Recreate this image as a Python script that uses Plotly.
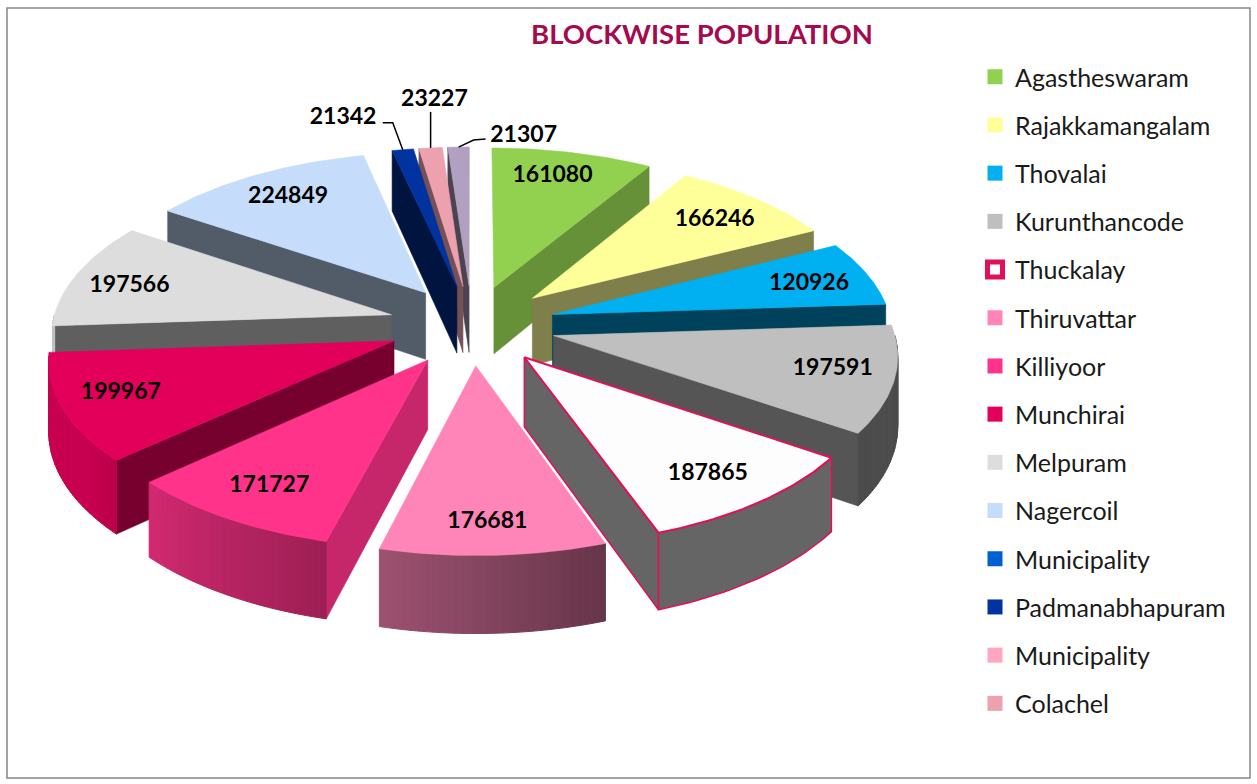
import numpy as np
import plotly.graph_objects as go

# ---------- data ----------
categories = ["Agastheswaram", "Rajakkamangalam", "Thovalai", "Kurunthancode", "Thuckalay",
              "Thiruvattar", "Killiyoor", "Munchirai", "Melpuram", "Nagercoil", "Municipality",
              "Padmanabhapuram", "Municipality", "Colachel", "Municipality"]
values = [161080, 166246, 120926, 197591, 187865, 176681, 171727, 199967, 197566, 224849,
          None, 21342, None, 23227, 21307]
colors = ["#92D050", "#FFFF99", "#00B0F0", "#BFBFBF", "#FDFDFD", "#FF85B8", "#FF3389", "#E3005A",
          "#DDDDDD", "#C5DCFA", "#0060D0", "#0033A0", "#FFA6C0", "#EDA1AE", "#B1A0C0"]
wall_shade = [0.70, 0.50, 0.38, 0.45, 0.40, 0.55, 0.78, 0.52, 0.43, 0.42, 0.45, 0.40, 0.45, 0.50, 0.42]
in_legend = [True] * 14 + [False]
label_frac = [0.78, 0.78, 0.80, 0.78, 0.66, 0.68, 0.72, 0.78, 0.78, 0.72, 0, 1.2, 0, 1.25, 1.1]
label_shift = [(-4, -4), (5, 1), (4, 3), (15, -1), (33, 24), (0, 32), (-18, 15), (-17, 0), (-15, 3), (-13, -9),
               (0, 0), (-50, -7), (0, 0), (11, -17), (66, 2)]
leader_shift = {11: [(-20, -27), (-10, -27), (0, 0)], 13: [(0, -36), (0, 0)], 14: [(27, -8), (15, -7), (0, 0)]}

# ---------- camera ----------
CX, CY, R, EXPLODE, TILT, PERSP, DEPTH = 472, 325, 339, 84, 0.475, 0.103, 68
INK = "#E0105A"
FONT = "Lato, Carlito, sans-serif"


def project(theta, r, mid, z=0.0):
    t, m = np.radians(theta), np.radians(mid)
    x = r * np.sin(t) + EXPLODE * np.sin(m)
    y = -r * np.cos(t) - EXPLODE * np.cos(m)
    w = 1 / (1 - PERSP * y / R)
    return CX + x * w, CY + y * TILT * w + z * w


def shade(hex_color, f):
    rgb = [int(hex_color[i:i + 2], 16) for i in (1, 3, 5)]
    return "rgb(%d,%d,%d)" % tuple(int(c * f) for c in rgb)


def poly(xs, ys, color, line=None, lw=1.0):
    fig.add_trace(go.Scatter(x=list(xs), y=list(ys), mode="lines", fill="toself", fillcolor=color,
                             line=dict(color=line or color, width=lw), hoverinfo="skip",
                             showlegend=False))


total = sum(v for v in values if v)
fig = go.Figure()

slices = []
cum = 0
for i, v in enumerate(values):
    if v:
        a0, a1 = cum / total * 360, (cum + v) / total * 360
        slices.append((i, a0, a1, (a0 + a1) / 2))
        cum += v
slices.sort(key=lambda s: -np.cos(np.radians(s[3])))

for i, a0, a1, mid in slices:
    col = colors[i]
    flat = i == 4
    edge = INK if flat else None
    # radial walls that face the viewer
    for ang, visible in ((a0, np.sin(np.radians(a0)) < 0), (a1, np.sin(np.radians(a1)) > 0)):
        if visible:
            x0, y0 = project(0, 0, mid)
            x1, y1 = project(ang, R, mid)
            x2, y2 = project(ang, R, mid, DEPTH)
            x3, y3 = project(0, 0, mid, DEPTH)
            poly([x0, x1, x2, x3, x0], [y0, y1, y2, y3, y0], shade(col, wall_shade[i]), edge, 1.5 if flat else 0.6)
    # outer wall, split into strips for the shading
    lo, hi = max(a0, 90), min(a1, 270)
    if hi > lo:
        if flat:
            ts = np.linspace(lo, hi, 30)
            top = [project(t, R, mid) for t in ts]
            bot = [project(t, R, mid, DEPTH) for t in ts[::-1]]
            pts = top + bot + [top[0]]
            poly([a for a, _ in pts], [b for _, b in pts], shade(col, wall_shade[i]), INK, 1.5)
        else:
            edges = np.linspace(lo, hi, 31)
            for p, q in zip(edges[:-1], edges[1:]):
                f = float(np.clip(0.40 + ((p + q) / 2 - 160) * 0.0063, 0.40, 0.88))
                ts = np.linspace(p, q, 3)
                top = [project(t, R, mid) for t in ts]
                bot = [project(t, R, mid, DEPTH) for t in ts[::-1]]
                pts = top + bot + [top[0]]
                poly([a for a, _ in pts], [b for _, b in pts], shade(col, f))
    # top face
    ts = np.linspace(a0, a1, 40)
    arc = [project(t, R, mid) for t in ts]
    ax, ay = project(0, 0, mid)
    poly([ax] + [a for a, _ in arc] + [ax], [ay] + [b for _, b in arc] + [ay], col, edge, 2 if flat else 0.6)

# leader lines of the small slices
for i, a0, a1, mid in slices:
    if i in leader_shift:
        ex, ey = project(mid, R, mid)
        fig.add_trace(go.Scatter(x=[ex + d[0] for d in leader_shift[i]], y=[ey + d[1] for d in leader_shift[i]],
                                 mode="lines", line=dict(color="black", width=1.5), hoverinfo="skip", showlegend=False))

# value labels
lx, ly, lt = [], [], []
for i, a0, a1, mid in slices:
    x, y = project(mid, R * label_frac[i], mid)
    lx.append(x + label_shift[i][0])
    ly.append(y + label_shift[i][1])
    lt.append(str(values[i]))
fig.add_trace(go.Scatter(x=lx, y=ly, text=lt, mode="text", hoverinfo="skip", showlegend=False,
                         textfont=dict(family=FONT, size=23, color="black", weight="bold")))

# legend
for i, name in enumerate(categories):
    if in_legend[i]:
        is_box = i == 4
        fig.add_trace(go.Scatter(x=[None], y=[None], mode="markers", name=name, legendgroup=str(i),
                                 marker=dict(symbol="square", size=15,
                                             color="white" if is_box else colors[i],
                                             line=dict(color=INK, width=5 if is_box else 0))))

fig.add_shape(type="rect", xref="paper", yref="paper", x0=7 / 1257, x1=1250 / 1257, y0=1 - 778 / 784,
              y1=1 - 8 / 784, line=dict(color="#868686", width=1.5))

fig.update_layout(
    width=1257, height=784, margin=dict(l=0, r=0, t=0, b=0), paper_bgcolor="white", plot_bgcolor="white",
    title=dict(text="<b>BLOCKWISE POPULATION</b>", x=702 / 1257, y=1 - 34 / 784, xanchor="center", yanchor="middle",
               font=dict(family=FONT, size=27.5, color="#A50A4E")),
    xaxis=dict(range=[0, 1257], visible=False, fixedrange=True),
    yaxis=dict(range=[784, 0], visible=False, fixedrange=True),
    legend=dict(x=975 / 1257, y=1 - 54 / 784, xanchor="left", yanchor="top", tracegroupgap=12.7,
                itemwidth=30, font=dict(family=FONT, size=25, color="#1a1a1a"),
                bgcolor="rgba(0,0,0,0)"),
)
fig.write_html("out.html", post_script="document.body.style.margin='0';", config=dict(displayModeBar=False))
